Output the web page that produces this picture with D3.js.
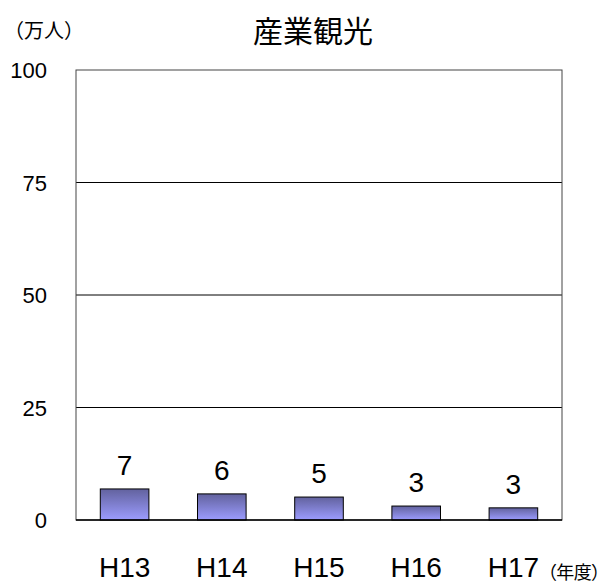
<!DOCTYPE html>
<html>
<head>
<meta charset="utf-8">
<script src="https://cdn.jsdelivr.net/npm/d3@7"></script>
<style>
    body { margin: 0; background: #fff; }
    text { font-family: "Liberation Sans", Arial, sans-serif; fill: #000; }
    .cjk { font-family: "Noto Sans CJK JP", sans-serif; }
</style>
</head>
<body>
<script>
const categories = ['H13', 'H14', 'H15', 'H16', 'H17'];
const values = [6.9, 5.8, 5.1, 3.1, 2.7];
const value_labels = ['7', '6', '5', '3', '3'];
const y_ticks = [0, 25, 50, 75, 100];

const width = 610,
    height = 588;

const margin = {top: 70, right: 48, bottom: 68, left: 76};

const svg = d3.select('body')
    .append('svg')
    .attr('width', width)
    .attr('height', height);

const defs = svg.append('defs');
const grad = defs.append('linearGradient')
    .attr('id', 'bargrad')
    .attr('x1', 0).attr('y1', 0)
    .attr('x2', 0).attr('y2', 1);
grad.append('stop').attr('offset', '0%').attr('stop-color', '#62629e');
grad.append('stop').attr('offset', '100%').attr('stop-color', '#9c9cff');

const x = d3.scaleBand()
    .domain(categories)
    .range([margin.left, width - margin.right])
    .paddingInner(0.5)
    .paddingOuter(0.25);

const y = d3.scaleLinear()
    .domain([0, 100])
    .range([height - margin.bottom, margin.top]);

// grid lines
svg.append('g')
    .selectAll('line')
    .data(y_ticks.filter(t => t > 0 && t < 100))
    .enter().append('line')
    .attr('x1', margin.left)
    .attr('x2', width - margin.right)
    .attr('y1', d => y(d))
    .attr('y2', d => y(d))
    .attr('stroke', '#000')
    .attr('stroke-width', 1);

// plot frame
svg.append('rect')
    .attr('x', margin.left)
    .attr('y', margin.top)
    .attr('width', width - margin.left - margin.right)
    .attr('height', height - margin.top - margin.bottom)
    .attr('fill', 'none')
    .attr('stroke', '#444')
    .attr('stroke-width', 1);

// bars
svg.append('g')
    .selectAll('rect')
    .data(values)
    .enter().append('rect')
    .attr('x', (d, i) => x(categories[i]))
    .attr('y', d => y(d))
    .attr('width', x.bandwidth())
    .attr('height', d => y(0) - y(d))
    .attr('fill', 'url(#bargrad)')
    .attr('stroke', '#000')
    .attr('stroke-width', 1);

// baseline
svg.append('line')
    .attr('x1', margin.left)
    .attr('x2', width - margin.right)
    .attr('y1', y(0))
    .attr('y2', y(0))
    .attr('stroke', '#000')
    .attr('stroke-width', 1.5);

// value labels
svg.append('g')
    .selectAll('text')
    .data(values)
    .enter().append('text')
    .attr('x', (d, i) => x(categories[i]) + x.bandwidth() / 2)
    .attr('y', d => y(d) - 14)
    .attr('text-anchor', 'middle')
    .style('font-size', '28px')
    .text((d, i) => value_labels[i]);

// y tick labels
const yAxis = svg.append('g')
    .attr('transform', 'translate(47,0)')
    .call(d3.axisLeft(y).tickValues(y_ticks).tickSize(0).tickPadding(0));
yAxis.select('.domain').remove();
yAxis.selectAll('text')
    .style('font-size', '22px')
    .style('font-family', '"Liberation Sans", Arial, sans-serif')
    .attr('text-anchor', 'end')
    .attr('dy', '0.35em');

// x tick labels
const xAxis = svg.append('g')
    .attr('transform', 'translate(0,577)')
    .call(d3.axisBottom(x).tickSize(0).tickPadding(0));
xAxis.select('.domain').remove();
xAxis.selectAll('text')
    .attr('dy', 0)
    .attr('y', 0)
    .style('font-size', '28px')
    .style('font-family', '"Liberation Sans", Arial, sans-serif');

// title
svg.append('text')
    .attr('class', 'cjk')
    .attr('x', 313)
    .attr('y', 42)
    .attr('text-anchor', 'middle')
    .style('font-size', '30px')
    .text('産業観光');

// unit labels
svg.append('text')
    .attr('class', 'cjk')
    .attr('x', 4)
    .attr('y', 38)
    .style('font-size', '20px')
    .text('（万人）')
    .attr('textLength', 80);

svg.append('text')
    .attr('class', 'cjk')
    .attr('x', 539)
    .attr('y', 579)
    .style('font-size', '18px')
    .text('（年度）')
    .attr('textLength', 70);
</script>
</body>
</html>
